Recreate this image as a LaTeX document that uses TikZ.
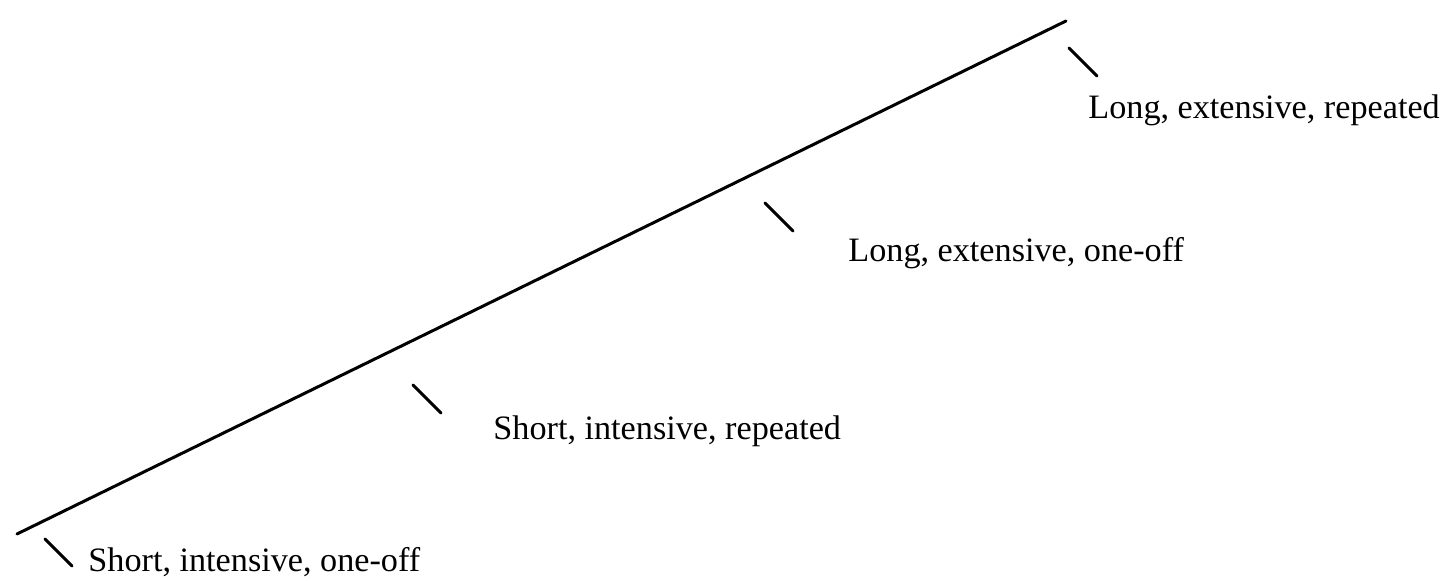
\documentclass[tikz,border=0pt]{standalone}
\usepackage{fontspec}
\setmainfont{Liberation Serif}
\usepackage{tikz}
\usetikzlibrary{positioning}
\tikzset{
  axisline/.style={line width=1.5pt,draw=black,line cap=round},
  tickline/.style={line width=1.5pt,draw=black,line cap=round},
  caption/.style={anchor=base west,inner sep=0pt,font=\fontsize{17.1}{20}\selectfont}
}

\begin{document}
\begin{tikzpicture}[x=.5pt,y=-.5pt]
\useasboundingbox (0,0) rectangle (1442,581);
% Continuum
\coordinate (lo) at (17,534);
\coordinate (hi) at (1066,21);
\draw[axisline] (lo) -- (hi);

% Tick marks
\draw[tickline] (45,539) -- (72,566);
\draw[tickline] (413,385) -- (441,413);
\draw[tickline] (765,203) -- (793,231);
\draw[tickline] (1069,48) -- (1097,76);

% Labels
\node[caption] (sio) at (88,572) {Short, intensive, one-off};
\node[caption] (sir) at (493,440) {Short, intensive, repeated};
\node[caption] (leo) at (848,262) {Long, extensive, one-off};
\node[caption] (ler) at (1088,119) {Long, extensive, repeated};
\end{tikzpicture}
\end{document}
